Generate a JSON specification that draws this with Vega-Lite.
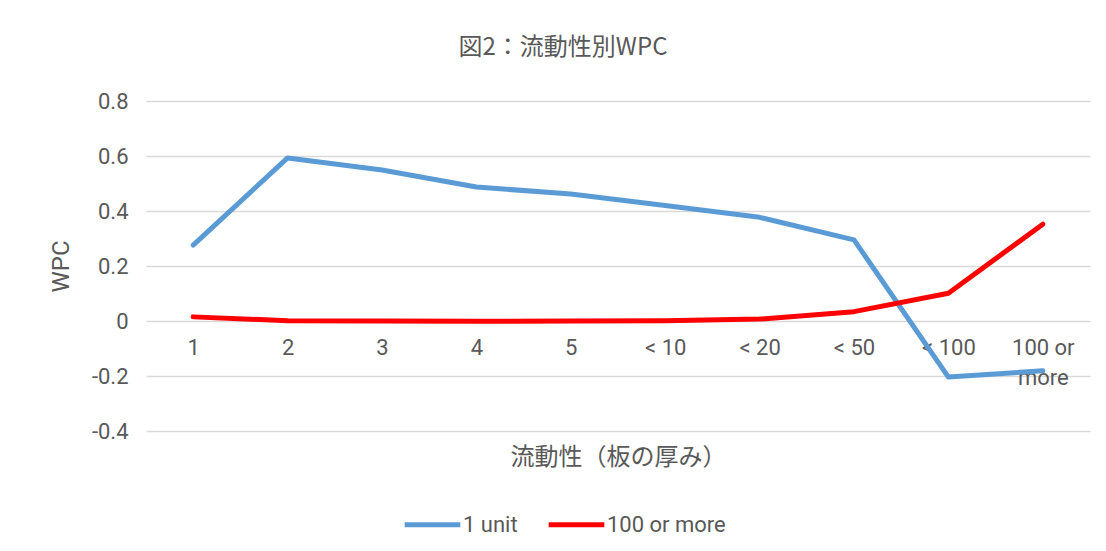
{
  "$schema": "https://vega.github.io/schema/vega-lite/v6.json",
  "width": 944,
  "height": 330,
  "autosize": {"type": "none"},
  "padding": {"left": 146, "top": 101, "right": 16, "bottom": 120},
  "background": "white",
  "title": {
    "text": "図2：流動性別WPC",
    "font": "Noto Sans CJK JP",
    "fontSize": 24,
    "fontWeight": "normal",
    "color": "#595959",
    "offset": 30,
    "dx": -55
  },
  "data": {
    "values": [
      {"cat": "1", "series": "1 unit", "wpc": 0.276},
      {"cat": "2", "series": "1 unit", "wpc": 0.593},
      {"cat": "3", "series": "1 unit", "wpc": 0.549},
      {"cat": "4", "series": "1 unit", "wpc": 0.487},
      {"cat": "5", "series": "1 unit", "wpc": 0.462},
      {"cat": "< 10", "series": "1 unit", "wpc": 0.42},
      {"cat": "< 20", "series": "1 unit", "wpc": 0.377},
      {"cat": "< 50", "series": "1 unit", "wpc": 0.295},
      {"cat": "< 100", "series": "1 unit", "wpc": -0.204},
      {"cat": "100 or more", "series": "1 unit", "wpc": -0.181},
      {"cat": "1", "series": "100 or more", "wpc": 0.015},
      {"cat": "2", "series": "100 or more", "wpc": 0.001},
      {"cat": "3", "series": "100 or more", "wpc": 0.0},
      {"cat": "4", "series": "100 or more", "wpc": -0.001},
      {"cat": "5", "series": "100 or more", "wpc": 0.0},
      {"cat": "< 10", "series": "100 or more", "wpc": 0.001},
      {"cat": "< 20", "series": "100 or more", "wpc": 0.007},
      {"cat": "< 50", "series": "100 or more", "wpc": 0.034},
      {"cat": "< 100", "series": "100 or more", "wpc": 0.101},
      {"cat": "100 or more", "series": "100 or more", "wpc": 0.352}
    ]
  },
  "mark": {"type": "line", "strokeWidth": 5, "strokeCap": "round", "strokeJoin": "round"},
  "encoding": {
    "x": {
      "field": "cat",
      "type": "ordinal",
      "sort": null,
      "scale": {"type": "point", "padding": 0.5},
      "axis": {
        "title": "流動性（板の厚み）",
        "titleFont": "Noto Sans CJK JP",
        "titleFontSize": 24,
        "titleFontWeight": "normal",
        "titleColor": "#595959",
        "titlePadding": 14,
        "labelAngle": 0,
        "labelPadding": -94,
        "labelFont": "Roboto",
        "labelFontSize": 22,
        "labelColor": "#595959",
        "labelLineHeight": 30,
        "labelExpr": "datum.value == '100 or more' ? ['100 or', 'more'] : datum.value",
        "domain": false,
        "ticks": false,
        "grid": false
      }
    },
    "y": {
      "field": "wpc",
      "type": "quantitative",
      "scale": {"domain": [-0.4, 0.8], "nice": false},
      "axis": {
        "title": "WPC",
        "titleFont": "Roboto",
        "titleFontSize": 24,
        "titleFontWeight": "normal",
        "titleColor": "#595959",
        "titlePadding": 18,
        "values": [-0.4, -0.2, 0, 0.2, 0.4, 0.6, 0.8],
        "labelExpr": "'' + round(datum.value * 10) / 10",
        "labelFont": "Roboto",
        "labelFontSize": 22,
        "labelColor": "#595959",
        "labelPadding": 18,
        "domain": false,
        "ticks": false,
        "grid": true,
        "gridColor": "#d9d9d9",
        "gridWidth": 1.5
      }
    },
    "color": {
      "field": "series",
      "type": "nominal",
      "scale": {"domain": ["1 unit", "100 or more"], "range": ["#5b9bd5", "#ff0000"]},
      "legend": {
        "title": null,
        "orient": "none",
        "direction": "horizontal",
        "legendX": 256,
        "legendY": 393,
        "symbolType": "stroke",
        "symbolSize": 3100,
        "symbolStrokeWidth": 5,
        "labelFont": "Roboto",
        "labelFontSize": 22,
        "labelColor": "#595959",
        "labelOffset": 0,
        "columnPadding": 20
      }
    }
  },
  "config": {
    "view": {"stroke": null}
  }
}
